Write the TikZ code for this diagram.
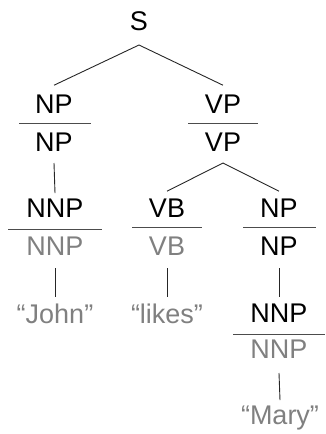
\documentclass[tikz,border=0pt]{standalone}
\usepackage{fontspec}
\setmainfont{Liberation Sans}
\begin{document}
\begin{tikzpicture}[x=1pt,y=-1pt,
  lab/.style={anchor=base,inner sep=0pt,font=\fontsize{27}{30}\selectfont},
  blk/.style={lab,text=black},
  gry/.style={lab,text=black!50},
  edge/.style={line width=0.9pt,black!85},
  bar/.style={line width=1pt,black!70}]
\useasboundingbox (0,0) rectangle (325,434);
% nodes
\node[blk] (S) at (139,30) {S};
\node[blk] (NPa) at (54,113) {NP};
\node[blk] (NPb) at (54,151) {NP};
\node[blk] (VPa) at (223,113) {VP};
\node[blk] (VPb) at (223,151) {VP};
\node[blk] (NNPa) at (55,217) {NNP};
\node[gry] (NNPb) at (55,255) {NNP};
\node[blk] (VBa) at (167,217) {VB};
\node[gry] (VBb) at (167,255) {VB};
\node[blk] (NPc) at (279,217) {NP};
\node[blk] (NPd) at (279,255) {NP};
\node[gry] (John) at (55,323) {“John”};
\node[gry] (likes) at (167,323) {“likes”};
\node[blk] (NNPc) at (279,322) {NNP};
\node[gry] (NNPd) at (279,358) {NNP};
\node[gry] (Mary) at (280,424) {“Mary”};
% bars
\draw[bar] (19,123) -- (91,123);
\draw[bar] (188,123) -- (258,123);
\draw[bar] (8,229) -- (102,229);
\draw[bar] (132,227) -- (202,227);
\draw[bar] (243,227) -- (316,227);
\draw[bar] (233,334) -- (325,334);
% edges
\draw[edge] ([yshift=-15pt]S.base) -- ([yshift=9pt]NPa.north);
\draw[edge] ([yshift=-15pt]S.base) -- ([yshift=9pt]VPa.north);
\draw[edge] ([yshift=-12pt]NPb.base) -- ([yshift=5pt]NNPa.north);
\draw[edge] ([yshift=-12pt]VPb.base) -- ([yshift=7pt]VBa.north);
\draw[edge] ([yshift=-12pt]VPb.base) -- ([yshift=7pt]NPc.north);
\draw[edge] ([yshift=-13pt]NNPb.base) -- ([yshift=6pt]John.north);
\draw[edge] ([yshift=-13pt]VBb.base) -- ([yshift=6pt]likes.north);
\draw[edge] ([yshift=-13pt]NPd.base) -- ([yshift=6pt]NNPc.north);
\draw[edge] ([yshift=-15pt]NNPd.base) -- ([yshift=5pt]Mary.north);
\end{tikzpicture}
\end{document}
